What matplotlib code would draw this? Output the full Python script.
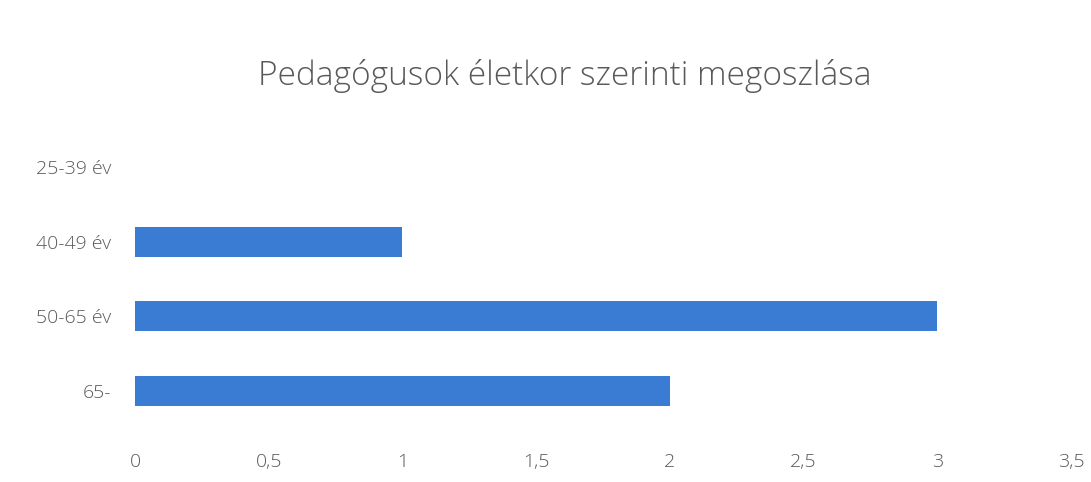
import matplotlib
matplotlib.use('agg')
import matplotlib.pyplot as plt
from matplotlib.ticker import FuncFormatter

# data
categories = ['25-39 év', '40-49 év', '50-65 év', '65-']
values = [0, 1, 3, 2]
xticks = [0, 0.5, 1, 1.5, 2, 2.5, 3, 3.5]

plt.rcParams['font.family'] = ['Open Sans', 'DejaVu Sans']

fig = plt.figure(figsize=(10.91, 4.82), dpi=100)
ax = fig.add_axes([0.1237, 0.111, 0.858, 0.620])

ax.barh(range(len(categories)), values, height=0.4, color='#3a7cd4')
ax.set_yticks(range(len(categories)))
ax.set_yticklabels(categories)
ax.set_ylim(3.5, -0.5)
ax.set_xlim(0, 3.5)
ax.set_xticks(xticks)
ax.xaxis.set_major_formatter(FuncFormatter(lambda v, p: ('%g' % v).replace('.', ',')))

for s in ax.spines.values():
    s.set_visible(False)
ax.tick_params(length=0, labelsize=14, colors='#595959')
ax.tick_params(axis='x', pad=18)
ax.tick_params(axis='y', pad=17)
for lab in ax.get_xticklabels() + ax.get_yticklabels():
    lab.set_fontweight('light')

fig.text(0.518, 0.843, 'Pedagógusok életkor szerinti megoszlása', ha='center', va='center',
         fontsize=24, color='#595959', fontweight='light')

fig.savefig('out.png', dpi=100)
